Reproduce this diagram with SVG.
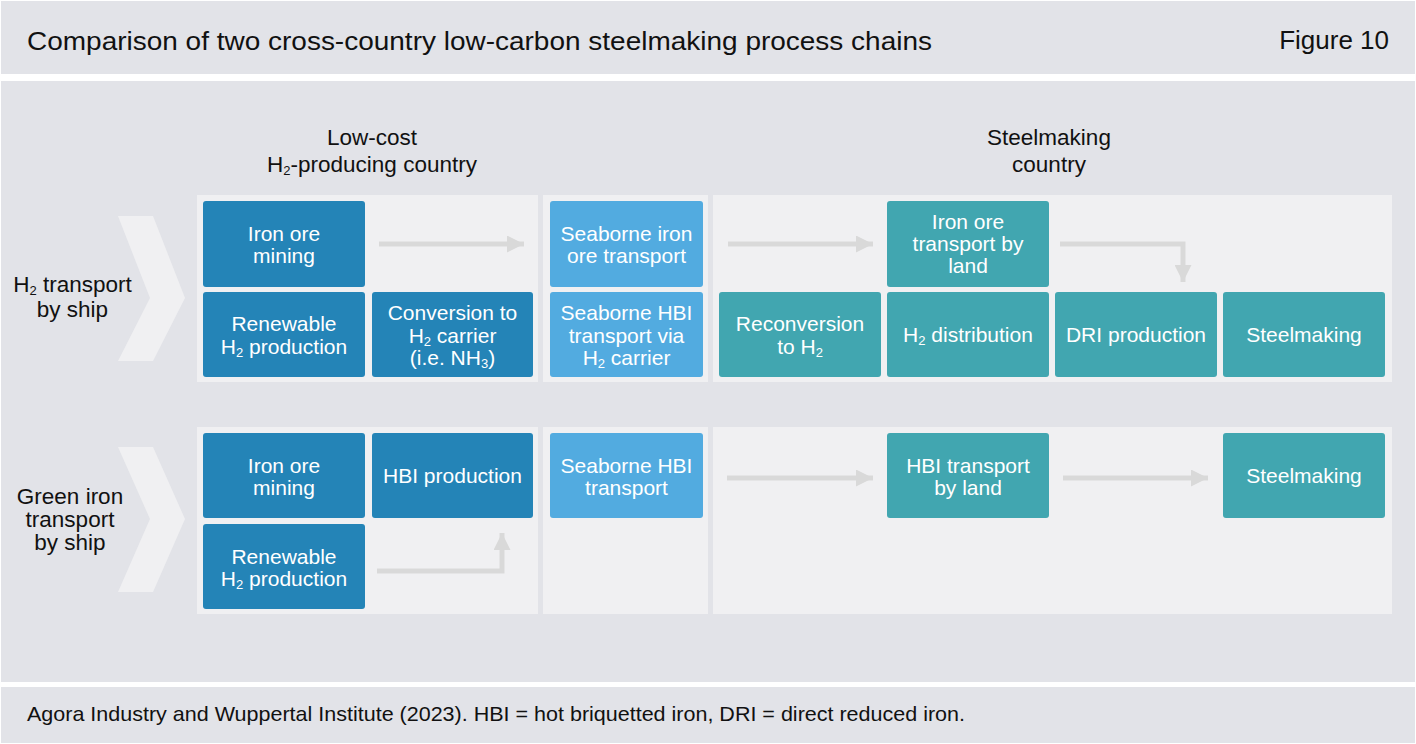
<svg xmlns="http://www.w3.org/2000/svg" width="1416" height="744" viewBox="0 0 1416 744">
<defs>
<style>
.bg{fill:#e2e3e8}
.panel{fill:#f0f0f2}
.chev{fill:#f0f0f2}
.dk{fill:#2484b7}
.lt{fill:#52abe0}
.tl{fill:#41a6b0}
.bt{font-family:"Liberation Sans",Arial,sans-serif;font-size:21px;fill:#ffffff;text-anchor:middle}
.lab{font-family:"Liberation Sans",Arial,sans-serif;font-size:22.5px;fill:#111111;text-anchor:middle}
.title{font-family:"Liberation Sans",Arial,sans-serif;font-size:26px;fill:#111111}
.foot{font-family:"Liberation Sans",Arial,sans-serif;font-size:21px;fill:#111111}
.sub{font-size:13px}
.conn{fill:none;stroke:#d9d9d9;stroke-width:5}
</style>
<marker id="ah" viewBox="0 0 10 10" refX="10" refY="5" markerWidth="4.4" markerHeight="3.4" markerUnits="strokeWidth" orient="auto">
<path d="M0,0 L10,5 L0,10 z" fill="#d9d9d9"/>
</marker>
</defs>
<rect width="1416" height="744" fill="#ffffff"/>
<rect class="bg" x="1" y="1" width="1414" height="73"/>
<rect class="bg" x="1" y="81" width="1414" height="601"/>
<rect class="bg" x="1" y="687" width="1414" height="56"/>
<g id="header">
<text class="title" x="27" y="50" textLength="905" lengthAdjust="spacingAndGlyphs">Comparison of two cross-country low-carbon steelmaking process chains</text>
<text class="title" x="1389" y="49" text-anchor="end">Figure 10</text>
</g>
<g id="footer">
<text class="foot" x="27" y="721" textLength="938" lengthAdjust="spacingAndGlyphs">Agora Industry and Wuppertal Institute (2023). HBI = hot briquetted iron, DRI = direct reduced iron.</text>
</g>
<g id="column-labels">
<text class="lab" x="372" y="145">Low-cost</text>
<text class="lab" x="372" y="172">H<tspan class="sub" baseline-shift="-3">2</tspan>-producing country</text>
<text class="lab" x="1049" y="145">Steelmaking</text>
<text class="lab" x="1049" y="172">country</text>
</g>
<g id="panels">
<rect class="panel" x="197" y="195" width="341" height="187"/>
<rect class="panel" x="543" y="195" width="165" height="187"/>
<rect class="panel" x="713" y="195" width="679" height="187"/>
<rect class="panel" x="197" y="427" width="341" height="187"/>
<rect class="panel" x="543" y="427" width="165" height="187"/>
<rect class="panel" x="713" y="427" width="679" height="187"/>
</g>
<g id="row1-label">
<path class="chev" d="M118,216 L153,216 L185,298 L153,361 L118,361 L150,298 Z"/>
<text class="lab" x="72.5" y="292">H<tspan class="sub" baseline-shift="-3">2</tspan> transport</text>
<text class="lab" x="72.5" y="317">by ship</text>
</g>
<g id="row2-label">
<path class="chev" d="M118,447 L153,447 L185,519 L153,592 L118,592 L150,519 Z"/>
<text class="lab" x="70" y="504">Green iron</text>
<text class="lab" x="70" y="527">transport</text>
<text class="lab" x="70" y="550">by ship</text>
</g>
<g id="r1-iron-ore-mining">
<rect class="dk" x="203" y="201" width="162" height="86" rx="3"/>
<text class="bt" x="284" y="241">Iron ore</text>
<text class="bt" x="284" y="263">mining</text>
</g>
<g id="r1-renewable-h2">
<rect class="dk" x="203" y="292" width="162" height="85" rx="3"/>
<text class="bt" x="284" y="331">Renewable</text>
<text class="bt" x="284" y="354">H<tspan class="sub" baseline-shift="-3">2</tspan> production</text>
</g>
<g id="r1-conversion">
<rect class="dk" x="372" y="292" width="161" height="85" rx="3"/>
<text class="bt" x="452.5" y="320">Conversion to</text>
<text class="bt" x="452.5" y="342.5">H<tspan class="sub" baseline-shift="-3">2</tspan> carrier</text>
<text class="bt" x="452.5" y="365">(i.e. NH<tspan class="sub" baseline-shift="-3">3</tspan>)</text>
</g>
<g id="r1-seaborne-iron-ore">
<rect class="lt" x="550" y="201" width="153" height="86" rx="3"/>
<text class="bt" x="626.5" y="241">Seaborne iron</text>
<text class="bt" x="626.5" y="263">ore transport</text>
</g>
<g id="r1-seaborne-hbi">
<rect class="lt" x="550" y="292" width="153" height="85" rx="3"/>
<text class="bt" x="626.5" y="320">Seaborne HBI</text>
<text class="bt" x="626.5" y="342.5">transport via</text>
<text class="bt" x="626.5" y="365">H<tspan class="sub" baseline-shift="-3">2</tspan> carrier</text>
</g>
<g id="r1-reconversion">
<rect class="tl" x="719" y="292" width="162" height="85" rx="3"/>
<text class="bt" x="800" y="331">Reconversion</text>
<text class="bt" x="800" y="354">to H<tspan class="sub" baseline-shift="-3">2</tspan></text>
</g>
<g id="r1-iron-ore-land">
<rect class="tl" x="887" y="201" width="162" height="86" rx="3"/>
<text class="bt" x="968" y="228.5">Iron ore</text>
<text class="bt" x="968" y="250.5">transport by</text>
<text class="bt" x="968" y="273">land</text>
</g>
<g id="r1-h2-distribution">
<rect class="tl" x="887" y="292" width="162" height="85" rx="3"/>
<text class="bt" x="968" y="342">H<tspan class="sub" baseline-shift="-3">2</tspan> distribution</text>
</g>
<g id="r1-dri">
<rect class="tl" x="1055" y="292" width="162" height="85" rx="3"/>
<text class="bt" x="1136" y="342">DRI production</text>
</g>
<g id="r1-steelmaking">
<rect class="tl" x="1223" y="292" width="162" height="85" rx="3"/>
<text class="bt" x="1304" y="342">Steelmaking</text>
</g>
<g id="r2-iron-ore-mining">
<rect class="dk" x="203" y="433" width="162" height="85" rx="3"/>
<text class="bt" x="284" y="472.5">Iron ore</text>
<text class="bt" x="284" y="495">mining</text>
</g>
<g id="r2-renewable-h2">
<rect class="dk" x="203" y="524" width="162" height="85" rx="3"/>
<text class="bt" x="284" y="563.5">Renewable</text>
<text class="bt" x="284" y="586">H<tspan class="sub" baseline-shift="-3">2</tspan> production</text>
</g>
<g id="r2-hbi-production">
<rect class="dk" x="372" y="433" width="161" height="85" rx="3"/>
<text class="bt" x="452.5" y="483">HBI production</text>
</g>
<g id="r2-seaborne-hbi">
<rect class="lt" x="550" y="433" width="153" height="85" rx="3"/>
<text class="bt" x="626.5" y="472.5">Seaborne HBI</text>
<text class="bt" x="626.5" y="495">transport</text>
</g>
<g id="r2-hbi-land">
<rect class="tl" x="887" y="433" width="162" height="85" rx="3"/>
<text class="bt" x="968" y="472.5">HBI transport</text>
<text class="bt" x="968" y="495">by land</text>
</g>
<g id="r2-steelmaking">
<rect class="tl" x="1223" y="433" width="162" height="85" rx="3"/>
<text class="bt" x="1304" y="483">Steelmaking</text>
</g>
<g id="connectors">
<path class="conn" d="M379,244 H524" marker-end="url(#ah)"/>
<path class="conn" d="M728,244 H873" marker-end="url(#ah)"/>
<path class="conn" d="M1060,244 H1183 V282" marker-end="url(#ah)"/>
<path class="conn" d="M727,478 H873" marker-end="url(#ah)"/>
<path class="conn" d="M1063,478 H1208" marker-end="url(#ah)"/>
<path class="conn" d="M377,571 H502 V533" marker-end="url(#ah)"/>
</g>
</svg>
